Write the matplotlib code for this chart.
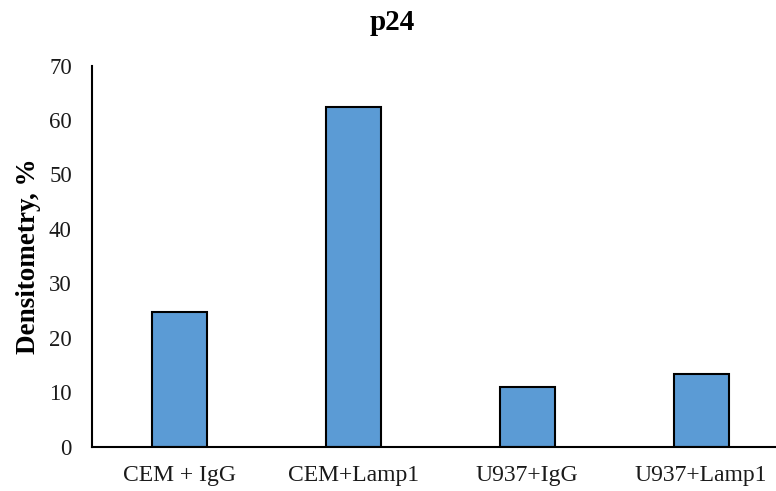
import matplotlib
matplotlib.use("Agg")
import matplotlib.pyplot as plt

categories = ["CEM + IgG", "CEM+Lamp1", "U937+IgG", "U937+Lamp1"]
values = [24.7, 62.3, 10.9, 13.3]
yticks = [0, 10, 20, 30, 40, 50, 60, 70]

plt.rcParams['font.family'] = ['Liberation Serif', 'DejaVu Serif']

fig = plt.figure(figsize=(7.76, 4.91), dpi=100)
ax = fig.add_axes([92/776, 1-446.7/491, (776-92)/776, (446.7-65.5)/491])

x = list(range(len(categories)))
ax.bar(x, values, width=0.316, color="#5B9BD5", edgecolor="black", linewidth=1.5, zorder=2)

ax.set_xlim(-0.5, 3.43)
ax.set_ylim(0, 70)
ax.set_yticks(yticks)
ax.set_xticks(x)
ax.set_xticklabels(categories, fontsize=17)
ax.tick_params(axis='y', labelsize=16.5, length=0, pad=14.5, labelcolor='#1a1a1a')
ax.tick_params(axis='x', length=0, pad=13, labelcolor='#1a1a1a')
for s in ['top', 'right']:
    ax.spines[s].set_visible(False)
ax.spines['left'].set_linewidth(1.5)
ax.spines['bottom'].set_linewidth(1.5)

ax.set_ylabel("Densitometry, %", fontsize=19.5, fontweight='bold', labelpad=6)
fig.text(392/776, 1-23/491, "p24", ha='center', va='center', fontsize=21, fontweight='bold')

fig.savefig("out.png", dpi=100)
